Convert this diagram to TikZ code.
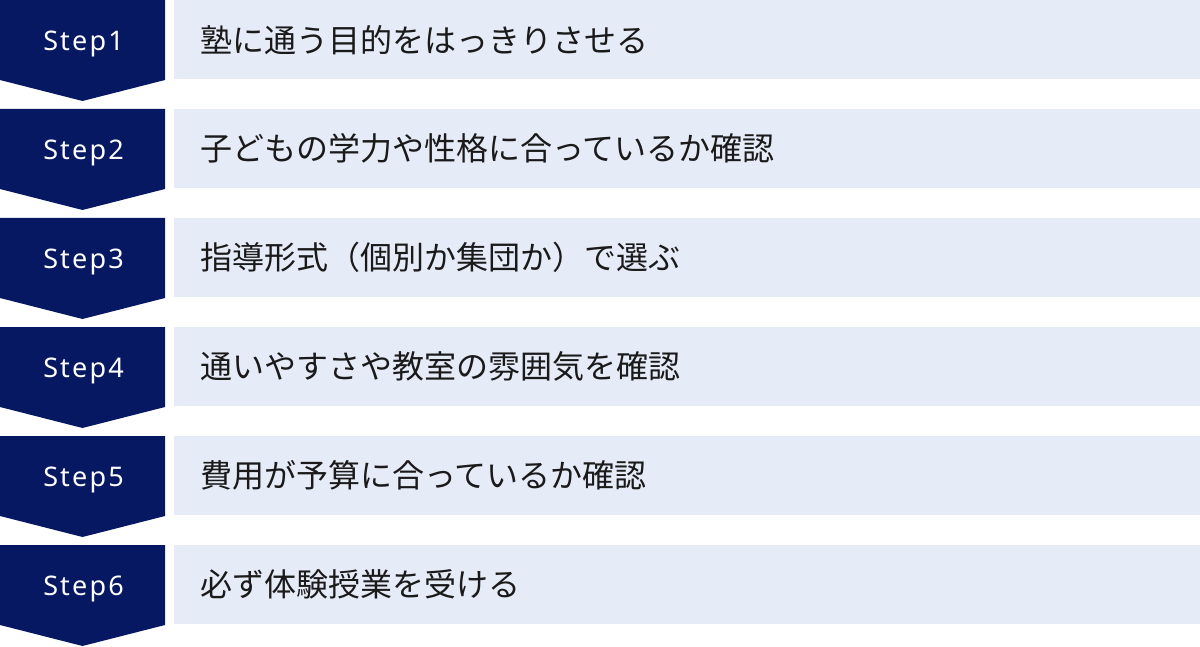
\documentclass[tikz,border=0pt]{standalone}
\usepackage{fontspec}
\newfontfamily\jpfont{Noto Sans CJK JP}
\newfontfamily\stepfont[LetterSpace=8]{Noto Sans}
\definecolor{navy}{RGB}{6,24,98}
\definecolor{lightbox}{RGB}{230,235,248}
\definecolor{ink}{RGB}{26,26,26}
\tikzset{
  stepshape/.style={fill=navy, draw=none},
  steplabel/.style={text=white, font=\stepfont\fontsize{27}{32}\selectfont, inner sep=0pt, anchor=base},
  itembox/.style={fill=lightbox, draw=none, anchor=north west, minimum height=79pt,
    text width=974pt, inner xsep=26pt, inner ysep=0pt, align=left,
    text=ink, font=\jpfont\fontsize{32}{38}\selectfont},
}
\begin{document}
\begin{tikzpicture}[x=1pt,y=-1pt]
\useasboundingbox (0,0) rectangle (1200,647);
\foreach \i/\txt in {1/塾に通う目的をはっきりさせる,
                    2/子どもの学力や性格に合っているか確認,
                    3/指導形式（個別か集団か）で選ぶ,
                    4/通いやすさや教室の雰囲気を確認,
                    5/費用が予算に合っているか確認,
                    6/必ず体験授業を受ける}{
  \pgfmathsetmacro{\t}{109*(\i-1)}
  \fill[stepshape] (0,\t) -- (165,\t) -- (165,\t+80) -- (82.5,\t+101) -- (0,\t+80) -- cycle;
  \node[steplabel] (s\i) at (83.5,\t+50.5) {Step\i};
  \node[itembox] (b\i) at (174,\t) {\txt};
}
\end{tikzpicture}
\end{document}
